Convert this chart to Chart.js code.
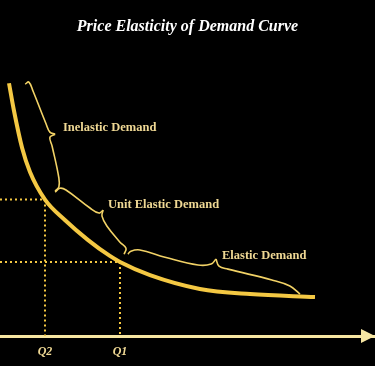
<!DOCTYPE html>
<html>
<head>
<meta charset="utf-8">
<script src="https://cdn.jsdelivr.net/npm/chart.js@4/dist/chart.umd.min.js"></script>
<style>
  html, body { margin: 0; padding: 0; background: #000; }
  canvas { display: block; }
</style>
</head>
<body>
<canvas id="demand-chart" width="375" height="366"></canvas>
<script>
// Demand curve (quantity 0-100, price 0-100)
const curveQ = [2.4, 3.7, 5.9, 8.0, 12.0, 17.3, 23.5, 29.3, 32.0, 40.0, 53.3, 66.7, 84.0];
const curveP = [84.3, 75.3, 62.7, 54.7, 45.5, 38.7, 32.0, 26.7, 24.7, 20.3, 15.7, 14.0, 13.0];

// Marked quantities and their prices
const markQ = [12, 32];
const markP = [45.5, 24.7];
const tickLabels = ['Q2', 'Q1'];

// Curly braces, each split in two halves meeting at the tip
const inelasticTopQ = [6.7, 7.7, 8.8, 12.3, 13.3, 14.7];
const inelasticTopP = [84.0, 84.7, 81.7, 70.7, 68.0, 67.3];
const inelasticLowQ = [14.7, 13.3, 13.9, 15.7, 15.7, 14.7];
const inelasticLowP = [67.3, 66.3, 63.3, 52.7, 49.7, 48.3];

const unitTopQ = [14.7, 16.0, 17.6, 24.0, 26.4, 27.5];
const unitTopP = [48.0, 49.3, 48.7, 42.7, 41.0, 42.0];
const unitLowQ = [27.5, 27.2, 28.5, 32.0, 33.6, 33.1];
const unitLowP = [42.0, 40.0, 36.7, 31.3, 29.3, 27.3];

const elasticTopQ = [34.1, 34.9, 37.3, 44.0, 52.8, 56.3, 57.6];
const elasticTopP = [27.3, 28.3, 28.7, 26.3, 23.7, 24.0, 25.7];
const elasticLowQ = [57.6, 58.4, 60.8, 72.5, 77.3, 80.0];
const elasticLowP = [25.7, 23.3, 22.3, 18.7, 16.7, 14.0];

// Region labels
const labelNames = ['Inelastic Demand', 'Unit Elastic Demand', 'Elastic Demand'];
const labelQ = [16.8, 28.8, 59.2];
const labelP = [69.5, 43.8, 26.8];

const GOLD = '#f4c843';
const BRACE = '#f2d266';
const TEXT = '#efd894';
const AXIS = '#f7e6a2';

const toPoints = (qs, ps) => qs.map((q, i) => ({ x: q, y: ps[i] }));

const braceSet = (qs, ps) => ({
  data: toPoints(qs, ps),
  borderColor: BRACE,
  borderWidth: 1.6,
  tension: 0.4,
  pointRadius: 0,
  clip: false
});

const guideSet = (i) => ({
  data: [{ x: 0, y: markP[i] }, { x: markQ[i], y: markP[i] }, { x: markQ[i], y: 0 }],
  borderColor: GOLD,
  borderWidth: 2,
  borderDash: [2, 3],
  tension: 0,
  pointRadius: 0,
  clip: false
});

const labelPlugin = {
  id: 'regionLabels',
  afterDatasetsDraw(chart) {
    const { ctx, scales: { x, y } } = chart;
    ctx.save();
    ctx.font = 'bold 12.5px "Liberation Serif"';
    ctx.fillStyle = TEXT;
    ctx.textAlign = 'left';
    ctx.textBaseline = 'middle';
    labelNames.forEach((name, i) => {
      ctx.fillText(name, x.getPixelForValue(labelQ[i]), y.getPixelForValue(labelP[i]));
    });
    ctx.restore();
  }
};

// arrow head on the quantity axis
const arrowPlugin = {
  id: 'axisArrow',
  afterDraw(chart) {
    const { ctx, chartArea } = chart;
    const yb = chartArea.bottom;
    const xr = chartArea.right;
    ctx.save();
    ctx.fillStyle = AXIS;
    ctx.beginPath();
    ctx.moveTo(xr - 14, yb - 7);
    ctx.lineTo(xr, yb);
    ctx.lineTo(xr - 14, yb + 7);
    ctx.closePath();
    ctx.fill();
    ctx.restore();
  }
};

new Chart(document.getElementById('demand-chart'), {
  type: 'line',
  data: {
    datasets: [
      guideSet(0),
      guideSet(1),
      {
        data: toPoints(curveQ, curveP),
        borderColor: GOLD,
        borderWidth: 4,
        cubicInterpolationMode: 'monotone',
        pointRadius: 0,
        clip: false
      },
      braceSet(inelasticTopQ, inelasticTopP),
      braceSet(inelasticLowQ, inelasticLowP),
      braceSet(unitTopQ, unitTopP),
      braceSet(unitLowQ, unitLowP),
      braceSet(elasticTopQ, elasticTopP),
      braceSet(elasticLowQ, elasticLowP)
    ]
  },
  options: {
    responsive: false,
    animation: false,
    layout: { padding: { top: 0, bottom: 6, left: 0, right: 0 } },
    plugins: {
      legend: { display: false },
      tooltip: { enabled: false },
      title: {
        display: true,
        text: 'Price Elasticity of Demand Curve',
        color: '#ffffff',
        font: { family: '"Liberation Serif"', size: 16, style: 'italic', weight: 'bold' },
        padding: { top: 17, bottom: 0 }
      }
    },
    scales: {
      x: {
        type: 'linear',
        min: 0,
        max: 100,
        grid: { display: false, drawTicks: false, tickLength: 0 },
        border: { display: true, color: AXIS, width: 3 },
        afterBuildTicks: (scale) => { scale.ticks = markQ.map(v => ({ value: v })); },
        afterFit: (scale) => { scale.height = 24; },
        ticks: {
          padding: 9,
          color: TEXT,
          font: { family: '"Liberation Serif"', size: 12, style: 'italic', weight: 'bold' },
          callback: (value) => tickLabels[markQ.indexOf(value)]
        }
      },
      y: { type: 'linear', min: 0, max: 100, display: false }
    }
  },
  plugins: [labelPlugin, arrowPlugin]
});
</script>
</body>
</html>
